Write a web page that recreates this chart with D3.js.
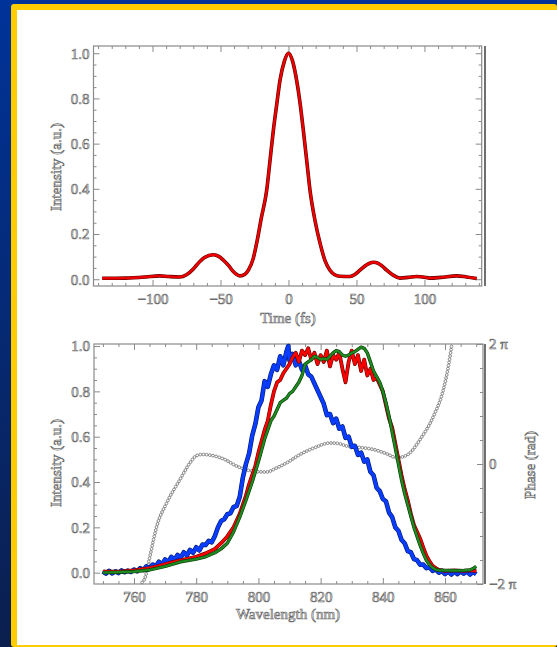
<!DOCTYPE html>
<html>
<head>
<meta charset="utf-8">
<script src="https://cdn.jsdelivr.net/npm/d3@7"></script>
<style>
  html, body { margin: 0; padding: 0; }
  body { width: 557px; height: 647px; overflow: hidden; }
  text { font-family: "Liberation Serif", "DejaVu Serif", serif; fill: #ffffff; stroke: #6e6e6e; stroke-width: 0.7px; }
</style>
</head>
<body>
<div id="chart"></div>
<script>
// pulse in time domain (top)
var timeFs = [-137, -120, -105, -95, -88, -80, -75, -70, -67.5, -62, -55.3, -51, -48, -44, -40.6, -35.7, -32, -29.5, -26, -23.4, -20, -16, -13.5, -11.1, -8.5, -6.25, -3, 0, 3, 6, 8.5, 10.9, 13.5, 15.8, 19.5, 23.2, 27, 30.5, 34, 37.9, 45.2, 49, 52.6, 57, 62.4, 66, 69, 72.2, 77, 82, 88, 94.3, 100, 103.6, 112, 123.7, 131, 138.4];
var pulse = [0.004, 0.005, 0.01, 0.015, 0.012, 0.01, 0.02, 0.045, 0.063, 0.095, 0.108, 0.1, 0.085, 0.06, 0.034, 0.015, 0.022, 0.04, 0.09, 0.16, 0.27, 0.395, 0.53, 0.66, 0.78, 0.88, 0.965, 1.0, 0.965, 0.88, 0.78, 0.66, 0.52, 0.395, 0.26, 0.16, 0.08, 0.04, 0.02, 0.013, 0.012, 0.022, 0.04, 0.062, 0.075, 0.07, 0.058, 0.04, 0.018, 0.005, 0.008, 0.012, 0.009, 0.005, 0.008, 0.015, 0.01, 0.003];

// spectra (bottom)
var blueNm = [750, 751, 752, 753, 754, 755, 756, 757, 758, 759, 760, 761, 762, 763, 764, 765, 766, 767, 768, 769, 770, 771, 772, 773, 774, 775, 776, 777, 778, 779, 780, 781, 782, 783, 784, 785, 786, 787, 788, 789, 790, 791, 792, 793, 794, 795, 796, 797, 798, 799, 800, 801, 802, 803, 804, 805, 806, 807, 808, 809, 809.6, 810, 811, 812, 813, 814, 815, 816, 817, 818, 819, 820, 821, 822, 823, 824, 825, 826, 827, 828, 829, 830, 831, 832, 833, 834, 835, 836, 837, 838, 839, 840, 841, 842, 843, 844, 845, 846, 847, 848, 849, 850, 851, 852, 853, 854, 855, 856, 857, 858, 859, 860, 861, 862, 863, 864, 865, 866, 867, 868, 869, 870];
var blueVal = [0.005, -0.004, 0.008, -0.003, 0.006, -0.002, 0.01, 0.002, 0.009, 0.003, 0.014, 0.006, 0.02, 0.012, 0.028, 0.018, 0.036, 0.028, 0.048, 0.036, 0.058, 0.046, 0.07, 0.056, 0.078, 0.066, 0.09, 0.076, 0.1, 0.088, 0.112, 0.098, 0.124, 0.122, 0.14, 0.134, 0.162, 0.2, 0.228, 0.236, 0.258, 0.262, 0.29, 0.294, 0.335, 0.42, 0.48, 0.525, 0.605, 0.655, 0.73, 0.76, 0.845, 0.82, 0.875, 0.915, 0.895, 0.955, 0.915, 0.975, 1.0, 0.935, 0.965, 0.915, 0.935, 0.895, 0.915, 0.875, 0.865, 0.835, 0.805, 0.775, 0.745, 0.695, 0.7, 0.66, 0.68, 0.635, 0.645, 0.595, 0.6, 0.555, 0.56, 0.52, 0.53, 0.49, 0.5, 0.445, 0.43, 0.375, 0.36, 0.325, 0.315, 0.265, 0.245, 0.2, 0.185, 0.145, 0.13, 0.095, 0.09, 0.06, 0.055, 0.035, 0.036, 0.02, 0.024, 0.008, 0.014, 0.0, 0.008, -0.006, 0.006, -0.008, 0.004, -0.006, 0.006, -0.004, 0.006, -0.008, 0.004, -0.006, 0.006];

var redNm = [750, 755, 760, 765, 768, 772, 776, 780, 783, 786, 788, 790, 792, 794, 796, 797, 798, 799, 800, 801, 802, 803, 804, 805, 806, 807, 808, 809, 810, 811, 812, 813, 814, 815, 816, 817, 818, 819, 820, 821, 822, 823, 824, 825, 826, 827, 828, 829, 830, 831, 832, 833, 834, 835, 836, 837, 838, 839, 840, 841, 842, 843, 844, 845, 846, 847, 848, 849, 850, 851, 852, 853, 854, 855, 856, 857, 858, 860, 863, 866, 869, 870];
var redVal = [0.005, 0.005, 0.01, 0.02, 0.03, 0.045, 0.058, 0.07, 0.085, 0.105, 0.13, 0.16, 0.2, 0.26, 0.34, 0.39, 0.43, 0.47, 0.53, 0.58, 0.63, 0.67, 0.74, 0.8, 0.84, 0.85, 0.88, 0.9, 0.92, 0.95, 0.97, 0.93, 0.98, 0.96, 0.99, 0.94, 0.97, 0.92, 0.96, 0.93, 0.98, 0.91, 0.96, 0.94, 0.97, 0.9, 0.84, 0.93, 0.98, 0.92, 0.96, 0.89, 0.94, 0.87, 0.9, 0.85, 0.86, 0.83, 0.8, 0.74, 0.68, 0.64, 0.57, 0.5, 0.43, 0.37, 0.32, 0.26, 0.21, 0.18, 0.15, 0.11, 0.075, 0.05, 0.03, 0.02, 0.012, 0.008, 0.01, 0.008, 0.01, 0.006];

var greenNm = [750, 755, 760, 765, 770, 775, 780, 783, 786, 788, 790, 792, 794, 796, 798, 800, 801, 802, 803, 804, 805, 806, 807, 808, 809, 810, 811, 812, 813, 814, 815, 816, 817, 818, 819, 820, 821, 822, 823, 824, 825, 826, 827, 828, 829, 830, 831, 832, 833, 834, 835, 836, 837, 838, 839, 840, 841, 842, 843, 844, 845, 846, 847, 848, 849, 850, 851, 852, 853, 854, 855, 856, 857, 858, 860, 863, 866, 868, 869, 870];
var greenVal = [0.0, 0.002, 0.005, 0.012, 0.028, 0.048, 0.06, 0.07, 0.088, 0.105, 0.13, 0.18, 0.245, 0.32, 0.4, 0.49, 0.54, 0.59, 0.63, 0.67, 0.69, 0.72, 0.75, 0.76, 0.77, 0.79, 0.8, 0.82, 0.84, 0.87, 0.92, 0.93, 0.94, 0.955, 0.95, 0.94, 0.945, 0.94, 0.955, 0.97, 0.98, 0.975, 0.96, 0.955, 0.96, 0.97, 0.975, 0.985, 0.995, 0.99, 0.97, 0.93, 0.89, 0.865, 0.84, 0.8, 0.75, 0.69, 0.62, 0.55, 0.48, 0.41, 0.35, 0.3, 0.25, 0.2, 0.16, 0.12, 0.085, 0.055, 0.035, 0.022, 0.014, 0.01, 0.01, 0.009, 0.01, 0.012, 0.018, 0.028];

// spectral phase (rad), right axis
var phaseNm = [762.6, 763.5, 765.1, 767.3, 770.5, 774.8, 778, 780.2, 782, 785, 789, 793, 798.4, 802.5, 805.9, 809, 813.4, 818, 823, 825.5, 828.4, 833, 837, 841, 844.5, 846.5, 848.5, 852, 856.3, 859.5, 861.1, 862.2];
var phaseRad = [-6.2, -5.98, -4.85, -3.27, -2.04, -0.81, 0.06, 0.45, 0.5, 0.45, 0.25, -0.11, -0.38, -0.42, -0.2, 0.05, 0.5, 0.85, 1.1, 1.08, 0.94, 0.86, 0.76, 0.55, 0.33, 0.38, 0.55, 1.29, 2.51, 3.92, 5.14, 6.28];

var svgWidth = 557;
var svgHeight = 647;

var svg = d3.select("#chart")
  .append("svg")
  .attr("width", svgWidth)
  .attr("height", svgHeight);

// background: blue slide with yellow edge and white panel
var defs = svg.append("defs");
var grad = defs.append("linearGradient")
  .attr("id", "bg")
  .attr("x1", 0).attr("y1", 0).attr("x2", 0).attr("y2", 1);
grad.append("stop").attr("offset", "0%").attr("stop-color", "#003399");
grad.append("stop").attr("offset", "100%").attr("stop-color", "#0b1f4e");

svg.append("rect").attr("width", svgWidth).attr("height", svgHeight).attr("fill", "url(#bg)");
svg.append("rect").attr("x", 11).attr("y", 4).attr("width", svgWidth - 11).attr("height", svgHeight - 4)
  .attr("rx", 3).attr("fill", "#ffcc00");
svg.append("rect").attr("x", 17).attr("y", 10).attr("width", svgWidth - 17).attr("height", 635)
  .attr("fill", "#ffffff");

var frameColor = "#8a8a8a";

function drawFrame(g, x0, y0, x1, y1) {
  g.append("rect")
    .attr("x", x0).attr("y", y0)
    .attr("width", x1 - x0).attr("height", y1 - y0)
    .attr("fill", "none")
    .attr("stroke", frameColor)
    .attr("stroke-width", 1.2);
}

function styleAxis(a, fontSize) {
  a.select(".domain").remove();
  a.selectAll(".tick line").attr("stroke", frameColor).attr("stroke-width", 1);
  a.selectAll("text")
    .attr("fill", null)
    .style("font-size", fontSize + "px")
    .style("font-family", null);
}

function rangeStep(a, b, s) {
  var out = [];
  for (var v = a; v <= b + 1e-9; v += s) out.push(+v.toFixed(6));
  return out;
}

var fmt = d3.format(".1f");

// ---------------- top chart: pulse vs time ----------------
var box1 = { left: 93.5, right: 481.7, top: 46, bottom: 286 };

var xTime = d3.scaleLinear().domain([-143.4, 142.1]).range([box1.left, box1.right]);
var yTop = d3.scaleLinear().domain([-0.03, 1.032]).range([box1.bottom, box1.top]);

var gTop = svg.append("g");

var tMajor = [-100, -50, 0, 50, 100];
var tMinor = rangeStep(-140, 140, 10).filter(d => tMajor.indexOf(d) < 0);
var iMajor = rangeStep(0, 1, 0.2);
var iMinor = rangeStep(0, 1, 0.05).filter(d => Math.round(d * 100) % 20 !== 0);

// minor ticks
gTop.append("g").attr("transform", `translate(0,${box1.bottom})`)
  .call(d3.axisBottom(xTime).tickValues(tMinor).tickSize(-3).tickFormat(""))
  .call(a => styleAxis(a, 14));
gTop.append("g").attr("transform", `translate(0,${box1.top})`)
  .call(d3.axisTop(xTime).tickValues(tMinor).tickSize(-3).tickFormat(""))
  .call(a => styleAxis(a, 14));
gTop.append("g").attr("transform", `translate(${box1.left},0)`)
  .call(d3.axisLeft(yTop).tickValues(iMinor).tickSize(-3).tickFormat(""))
  .call(a => styleAxis(a, 14));
gTop.append("g").attr("transform", `translate(${box1.right},0)`)
  .call(d3.axisRight(yTop).tickValues(iMinor).tickSize(-3).tickFormat(""))
  .call(a => styleAxis(a, 14));

// major ticks + labels
gTop.append("g").attr("transform", `translate(0,${box1.bottom})`)
  .call(d3.axisBottom(xTime).tickValues(tMajor).tickSize(-6).tickPadding(7))
  .call(a => styleAxis(a, 15));
gTop.append("g").attr("transform", `translate(0,${box1.top})`)
  .call(d3.axisTop(xTime).tickValues(tMajor).tickSize(-6).tickFormat(""))
  .call(a => styleAxis(a, 14));
gTop.append("g").attr("transform", `translate(${box1.left},0)`)
  .call(d3.axisLeft(yTop).tickValues(iMajor).tickSize(-6).tickPadding(4).tickFormat(fmt))
  .call(a => styleAxis(a, 15));
gTop.append("g").attr("transform", `translate(${box1.right},0)`)
  .call(d3.axisRight(yTop).tickValues(iMajor).tickSize(-6).tickFormat(""))
  .call(a => styleAxis(a, 14));

drawFrame(gTop, box1.left, box1.top, box1.right, box1.bottom);
gTop.append("line")
  .attr("x1", box1.right + 3.3).attr("x2", box1.right + 3.3)
  .attr("y1", box1.top).attr("y2", box1.bottom)
  .attr("stroke", "#333").attr("stroke-width", 1.4);

var pulseData = timeFs.map((t, i) => ({ x: t, y: pulse[i] }));
var lineTop = d3.line().x(d => xTime(d.x)).y(d => yTop(d.y)).curve(d3.curveMonotoneX);

gTop.append("path").datum(pulseData)
  .attr("d", lineTop).attr("fill", "none")
  .attr("stroke", "#5a0000").attr("stroke-width", 3.6);
gTop.append("path").datum(pulseData)
  .attr("d", lineTop).attr("fill", "none")
  .attr("stroke", "#ee0000").attr("stroke-width", 2.4);

gTop.append("text")
  .attr("x", 288).attr("y", 323)
  .attr("text-anchor", "middle")
  .style("font-size", "15px")
  .text("Time (fs)");

gTop.append("text")
  .attr("transform", "translate(61,167) rotate(-90)")
  .attr("text-anchor", "middle")
  .style("font-size", "15px")
  .text("Intensity (a.u.)");

// ---------------- bottom chart: spectra ----------------
var box2 = { left: 94, right: 483, top: 344, bottom: 584 };

var xWl = d3.scaleLinear().domain([747.14, 872.2]).range([box2.left, box2.right]);
var yBot = d3.scaleLinear().domain([-0.05, 1.009]).range([box2.bottom, box2.top]);
var yPhase = d3.scaleLinear().domain([-2 * Math.PI, 2 * Math.PI]).range([box2.bottom, box2.top]);

var gBot = svg.append("g");

var wMajor = [760, 780, 800, 820, 840, 860];
var wMinor = rangeStep(750, 870, 5).filter(d => d % 20 !== 0);
var pMajor = [-2 * Math.PI, 0, 2 * Math.PI];
var pMinor = rangeStep(-2 * Math.PI, 2 * Math.PI, 2 * Math.PI / 5).slice(1, -1).filter(d => Math.abs(d) > 1e-6);

gBot.append("g").attr("transform", `translate(0,${box2.bottom})`)
  .call(d3.axisBottom(xWl).tickValues(wMinor).tickSize(-3).tickFormat(""))
  .call(a => styleAxis(a, 14));
gBot.append("g").attr("transform", `translate(0,${box2.top})`)
  .call(d3.axisTop(xWl).tickValues(wMinor).tickSize(-3).tickFormat(""))
  .call(a => styleAxis(a, 14));
gBot.append("g").attr("transform", `translate(${box2.left},0)`)
  .call(d3.axisLeft(yBot).tickValues(iMinor).tickSize(-3).tickFormat(""))
  .call(a => styleAxis(a, 14));
gBot.append("g").attr("transform", `translate(${box2.right},0)`)
  .call(d3.axisRight(yPhase).tickValues(pMinor).tickSize(-3).tickFormat(""))
  .call(a => styleAxis(a, 14));

gBot.append("g").attr("transform", `translate(0,${box2.bottom})`)
  .call(d3.axisBottom(xWl).tickValues(wMajor).tickSize(-6).tickPadding(7))
  .call(a => styleAxis(a, 15));
gBot.append("g").attr("transform", `translate(0,${box2.top})`)
  .call(d3.axisTop(xWl).tickValues(wMajor).tickSize(-6).tickFormat(""))
  .call(a => styleAxis(a, 14));
gBot.append("g").attr("transform", `translate(${box2.left},0)`)
  .call(d3.axisLeft(yBot).tickValues(iMajor).tickSize(-6).tickPadding(4).tickFormat(fmt))
  .call(a => styleAxis(a, 15));
gBot.append("g").attr("transform", `translate(${box2.right},0)`)
  .call(d3.axisRight(yPhase).tickValues(pMajor).tickSize(-6).tickPadding(6)
    .tickFormat(d => d > 0 ? "2 π" : (d < 0 ? "−2 π" : "0")))
  .call(a => styleAxis(a, 15));

drawFrame(gBot, box2.left, box2.top, box2.right, box2.bottom);
gBot.append("line")
  .attr("x1", box2.right + 2).attr("x2", box2.right + 2)
  .attr("y1", box2.top).attr("y2", box2.bottom)
  .attr("stroke", "#333").attr("stroke-width", 1.4);

// phase: line of small open circles
var phaseData = phaseNm.map((w, i) => ({ x: w, y: phaseRad[i] }));
var linePhase = d3.line().x(d => xWl(d.x)).y(d => yPhase(d.y)).curve(d3.curveMonotoneX);
var phasePath = gBot.append("path").datum(phaseData)
  .attr("d", linePhase).attr("fill", "none")
  .attr("stroke", "#999").attr("stroke-width", 0.6);
var pNode = phasePath.node();
var pLen = pNode.getTotalLength();
var dots = d3.range(0, pLen, 3.2).map(l => pNode.getPointAtLength(l));
gBot.append("g").selectAll("circle")
  .data(dots)
  .enter()
  .append("circle")
  .attr("cx", d => d.x).attr("cy", d => d.y)
  .attr("r", 1.4)
  .attr("fill", "#ffffff")
  .attr("stroke", "#707070")
  .attr("stroke-width", 0.8);

var lineBot = d3.line().x(d => xWl(d.x)).y(d => yBot(d.y));

function spectrum(nm, vals, color, dark, w) {
  var data = nm.map((v, i) => ({ x: v, y: vals[i] }));
  gBot.append("path").datum(data)
    .attr("d", lineBot).attr("fill", "none")
    .attr("stroke", dark).attr("stroke-width", w + 1.2)
    .attr("stroke-linejoin", "round");
  gBot.append("path").datum(data)
    .attr("d", lineBot).attr("fill", "none")
    .attr("stroke", color).attr("stroke-width", w)
    .attr("stroke-linejoin", "round");
}

spectrum(blueNm, blueVal, "#0a3cff", "#001a66", 3.4);
spectrum(redNm, redVal, "#ff0000", "#600000", 2.6);
spectrum(greenNm, greenVal, "#1f8a1f", "#0a3a0a", 2.2);

gBot.append("text")
  .attr("x", 288).attr("y", 619)
  .attr("text-anchor", "middle")
  .style("font-size", "15px")
  .text("Wavelength (nm)");

gBot.append("text")
  .attr("transform", "translate(61,463) rotate(-90)")
  .attr("text-anchor", "middle")
  .style("font-size", "15px")
  .text("Intensity (a.u.)");

gBot.append("text")
  .attr("transform", "translate(535,465) rotate(-90)")
  .attr("text-anchor", "middle")
  .style("font-size", "15px")
  .text("Phase (rad)");
</script>
</body>
</html>
